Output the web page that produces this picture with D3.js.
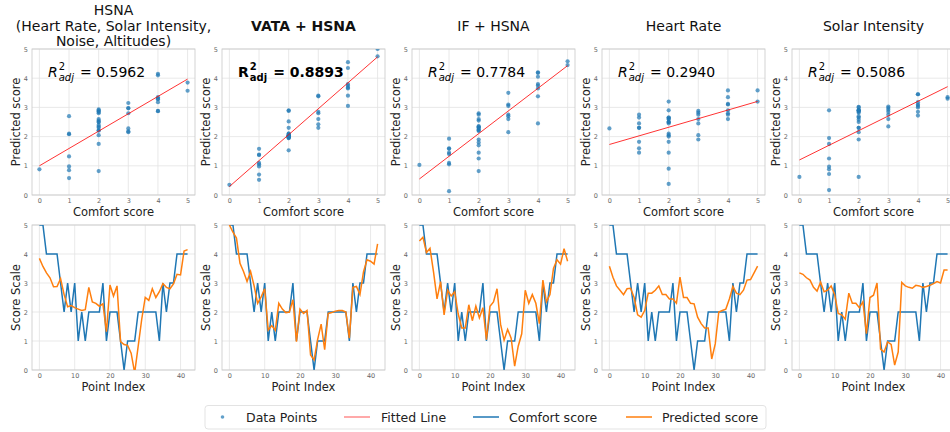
<!DOCTYPE html>
<html>
<head>
<meta charset="utf-8">
<script src="https://cdnjs.cloudflare.com/ajax/libs/d3/7.8.5/d3.min.js"></script>
<style>
  body { margin: 0; background: #fff; }
</style>
</head>
<body>
<svg id="chart"></svg>
<script>
// ---- data ----
const titles = [
    ["HSNA", "(Heart Rate, Solar Intensity,", "Noise, Altitudes)"],
    ["VATA + HSNA"],
    ["IF + HSNA"],
    ["Heart Rate"],
    ["Solar Intensity"]
];
const titleBold = [false, true, false, false, false];
const r2Values = ["0.5962", "0.8893", "0.7784", "0.2940", "0.5086"];

const fitIntercept = [1.0, 0.29, 0.55, 1.73, 1.2];
const fitSlope = [0.594, 0.888, 0.776, 0.295, 0.502];

const comfort = [5,5,4,4,4,4,3,2,3,2,3,1,2,1,2,2,2,2,3,1,2,2,2,1,0,1,1,1,2,2,2,2,2,2,1,3,2,3,3,4,4,4,4];

const predHSNA = [3.85,3.57,3.35,3.18,2.87,2.88,3.15,2.6,2.18,2.22,2.15,2.1,2.05,2.08,2.85,2.35,2.3,2.2,2.28,1.32,2.93,2.55,2.9,0.98,0.88,0.85,0.58,-0.1,0.82,1.75,2.5,2.4,2.8,2.5,2.7,2.98,2.85,2.8,2.97,3.3,3.28,4.1,4.15];
const predVATA = [5.0,4.75,4.55,3.68,3.4,3.05,3.4,2.9,2.3,2.52,2.8,1.38,1.53,1.37,2.3,2.1,1.98,2.0,2.42,0.98,2.1,1.95,2.05,0.52,0.35,1.05,1.58,0.7,1.95,1.98,2.03,2.05,2.05,2.0,1.1,2.85,2.88,2.6,3.38,3.8,3.75,3.65,4.35];
const predIF = [4.45,4.58,4.05,4.2,3.38,2.45,3.05,1.9,2.75,2.55,2.7,1.93,1.45,1.45,2.25,1.7,2.2,1.8,2.15,1.05,2.2,2.35,2.8,1.58,1.03,1.4,1.1,0.13,0.82,1.25,2.75,2.3,2.6,2.3,1.6,3.1,2.35,2.6,3.5,3.8,3.65,4.18,3.75];
const predHR = [3.58,3.2,2.9,2.75,2.6,2.8,2.82,2.5,1.9,1.82,2.05,2.65,2.65,2.75,2.9,2.6,2.6,2.45,2.45,2.3,3.2,2.5,2.5,2.3,2.28,1.82,1.6,1.45,1.45,0.38,0.9,2.0,2.05,2.1,2.45,2.88,2.65,2.6,2.75,3.1,3.12,3.35,3.58];
const predSolar = [3.35,3.3,3.18,3.1,2.85,2.72,3.03,2.7,2.75,2.9,2.6,1.95,1.9,1.75,2.65,2.3,2.3,2.15,2.35,1.25,2.5,2.58,3.0,0.72,0.62,0.97,0.88,0.17,0.62,3.02,2.9,2.85,2.82,2.92,2.9,2.85,2.88,2.92,2.98,3.05,3.0,3.45,3.45];
const predictions = [predHSNA, predVATA, predIF, predHR, predSolar];

const scatterTicks = [0, 1, 2, 3, 4, 5];
const scoreTicks = [0, 1, 2, 3, 4, 5];
const indexTicks = [0, 10, 20, 30, 40];
const legendLabels = ["Data Points", "Fitted Line", "Comfort score", "Predicted score"];

// ---- layout ----
const width = 950, height = 432;
const panelW = 163, panelStep = 190, left0 = 32;
const top1 = 49, bottom1 = 195;
const top2 = 225, bottom2 = 370;
const blue = "#1f77b4", orange = "#ff7f0e";
const fontFamily = "'DejaVu Sans', sans-serif";

const svg = d3.select("#chart")
    .attr("width", width)
    .attr("height", height)
    .style("font-family", fontFamily);

const defs = svg.append("defs");

function drawFrame(g, xScale, yScale, xTicks, yTicks, top, bottom, x0) {
    // grid
    g.append("g").selectAll("line").data(xTicks).join("line")
        .attr("x1", d => xScale(d)).attr("x2", d => xScale(d))
        .attr("y1", top).attr("y2", bottom)
        .attr("stroke", "#e3e3e3").attr("stroke-width", 0.8);
    g.append("g").selectAll("line").data(yTicks).join("line")
        .attr("x1", x0).attr("x2", x0 + panelW)
        .attr("y1", d => yScale(d)).attr("y2", d => yScale(d))
        .attr("stroke", "#e3e3e3").attr("stroke-width", 0.8);

    const xa = g.append("g")
        .attr("transform", "translate(0," + bottom + ")")
        .call(d3.axisBottom(xScale).tickValues(xTicks).tickSize(0).tickPadding(3).tickFormat(d3.format("d")));
    const ya = g.append("g")
        .attr("transform", "translate(" + x0 + ",0)")
        .call(d3.axisLeft(yScale).tickValues(yTicks).tickSize(0).tickPadding(4).tickFormat(d3.format("d")));
    [xa, ya].forEach(a => {
        a.select(".domain").remove();
        a.selectAll("text").style("font-size", "6.5px").style("fill", "#666").style("font-family", fontFamily);
    });

    g.append("rect")
        .attr("x", x0).attr("y", top)
        .attr("width", panelW).attr("height", bottom - top)
        .attr("fill", "none").attr("stroke", "#c8c8c8").attr("stroke-width", 0.8);
}

function drawR2(g, x, y, value, bold) {
    const weight = bold ? "bold" : "normal";
    const style = bold ? "normal" : "italic";
    const r = g.append("text").attr("x", x).attr("y", y)
        .style("font-size", "14px").style("font-weight", weight).style("font-style", style)
        .text("R");
    const rw = r.node().getComputedTextLength();
    const sup = g.append("text").attr("x", x + rw + 1).attr("y", y - 7)
        .style("font-size", "10px").style("font-weight", weight)
        .text("2");
    const sub = g.append("text").attr("x", x + rw + 1).attr("y", y + 4)
        .style("font-size", "10px").style("font-weight", weight).style("font-style", style)
        .text("adj");
    const sw = Math.max(sup.node().getComputedTextLength(), sub.node().getComputedTextLength());
    g.append("text").attr("x", x + rw + 1 + sw + 6).attr("y", y)
        .style("font-size", "14px").style("font-weight", weight)
        .text("= " + value);
}

for (let k = 0; k < 5; k++) {
    const x0 = left0 + panelStep * k;
    const pred = predictions[k];
    const pts = comfort.map((c, i) => ({ c: c, p: pred[i], i: i }));

    // ---------- top: scatter ----------
    const xS = d3.scaleLinear().domain([-0.25, 5.25]).range([x0, x0 + panelW]);
    const yS = d3.scaleLinear().domain([0, 5]).range([bottom1, top1]);
    const gTop = svg.append("g");

    defs.append("clipPath").attr("id", "clipTop" + k)
        .append("rect").attr("x", x0).attr("y", top1).attr("width", panelW).attr("height", bottom1 - top1);

    drawFrame(gTop, xS, yS, scatterTicks, scoreTicks, top1, bottom1, x0);

    const plotTop = gTop.append("g").attr("clip-path", "url(#clipTop" + k + ")");
    plotTop.selectAll("circle").data(pts).join("circle")
        .attr("cx", d => xS(d.c))
        .attr("cy", d => yS(d.p))
        .attr("r", 2.1)
        .attr("fill", blue)
        .attr("fill-opacity", 0.7);

    const fitLine = d3.line().x(d => xS(d)).y(d => yS(fitIntercept[k] + fitSlope[k] * d));
    plotTop.append("path")
        .datum([0, 5])
        .attr("d", fitLine)
        .attr("stroke", "red")
        .attr("stroke-opacity", 0.8)
        .attr("stroke-width", 1)
        .attr("fill", "none");

    // title
    const lines = titles[k];
    lines.forEach((t, j) => {
        gTop.append("text")
            .attr("x", x0 + panelW / 2)
            .attr("y", lines.length === 1 ? 31 : 15 + 15.5 * j)
            .attr("text-anchor", "middle")
            .style("font-size", "14px")
            .style("font-weight", titleBold[k] ? "bold" : "normal")
            .style("fill", "#111")
            .text(t);
    });

    drawR2(gTop, x0 + 16, 77, r2Values[k], titleBold[k]);

    gTop.append("text")
        .attr("x", x0 + panelW / 2).attr("y", bottom1 + 20.5)
        .attr("text-anchor", "middle")
        .style("font-size", "11.5px").style("fill", "#222")
        .text("Comfort score");
    gTop.append("text")
        .attr("transform", "translate(" + (x0 - 12) + "," + ((top1 + bottom1) / 2) + ") rotate(-90)")
        .attr("text-anchor", "middle")
        .style("font-size", "11.5px").style("fill", "#222")
        .text("Predicted score");

    // ---------- bottom: series ----------
    const xL = d3.scaleLinear().domain([-2.1, 44.1]).range([x0, x0 + panelW]);
    const yL = d3.scaleLinear().domain([0, 5]).range([bottom2, top2]);
    const gBot = svg.append("g");

    defs.append("clipPath").attr("id", "clipBot" + k)
        .append("rect").attr("x", x0).attr("y", top2).attr("width", panelW).attr("height", bottom2 - top2);

    drawFrame(gBot, xL, yL, indexTicks, scoreTicks, top2, bottom2, x0);

    const plotBot = gBot.append("g").attr("clip-path", "url(#clipBot" + k + ")");
    plotBot.append("path")
        .datum(pts)
        .attr("d", d3.line().x(d => xL(d.i)).y(d => yL(d.c)))
        .attr("stroke", blue).attr("stroke-width", 1.5).attr("fill", "none");
    plotBot.append("path")
        .datum(pts)
        .attr("d", d3.line().x(d => xL(d.i)).y(d => yL(d.p)))
        .attr("stroke", orange).attr("stroke-width", 1.5).attr("fill", "none");

    gBot.append("text")
        .attr("x", x0 + panelW / 2).attr("y", bottom2 + 20.5)
        .attr("text-anchor", "middle")
        .style("font-size", "11.5px").style("fill", "#222")
        .text("Point Index");
    gBot.append("text")
        .attr("transform", "translate(" + (x0 - 12) + "," + ((top2 + bottom2) / 2) + ") rotate(-90)")
        .attr("text-anchor", "middle")
        .style("font-size", "11.5px").style("fill", "#222")
        .text("Score Scale");
}

// ---------- legend ----------
const legend = svg.append("g");
const legY = 417;
legend.append("rect")
    .attr("x", 205).attr("y", 405.5)
    .attr("width", 561).attr("height", 23.5)
    .attr("rx", 3)
    .attr("fill", "#fff").attr("stroke", "#dcdcdc").attr("stroke-width", 0.8);

const handleX = [222.5, 344, 473, 626];
const textX = [246, 381, 509, 662];
legend.append("circle").attr("cx", handleX[0]).attr("cy", legY).attr("r", 1.8)
    .attr("fill", blue).attr("fill-opacity", 0.7);
const lineColors = [null, "red", blue, orange];
const lineOpacity = [0, 0.45, 1, 1];
for (let j = 1; j < 4; j++) {
    legend.append("line")
        .attr("x1", handleX[j]).attr("x2", handleX[j] + 26)
        .attr("y1", legY).attr("y2", legY)
        .attr("stroke", lineColors[j]).attr("stroke-opacity", lineOpacity[j])
        .attr("stroke-width", 1.5);
}
legendLabels.forEach((t, j) => {
    legend.append("text")
        .attr("x", textX[j]).attr("y", legY + 4.5)
        .style("font-size", "12.5px").style("fill", "#222")
        .text(t);
});
</script>
</body>
</html>
